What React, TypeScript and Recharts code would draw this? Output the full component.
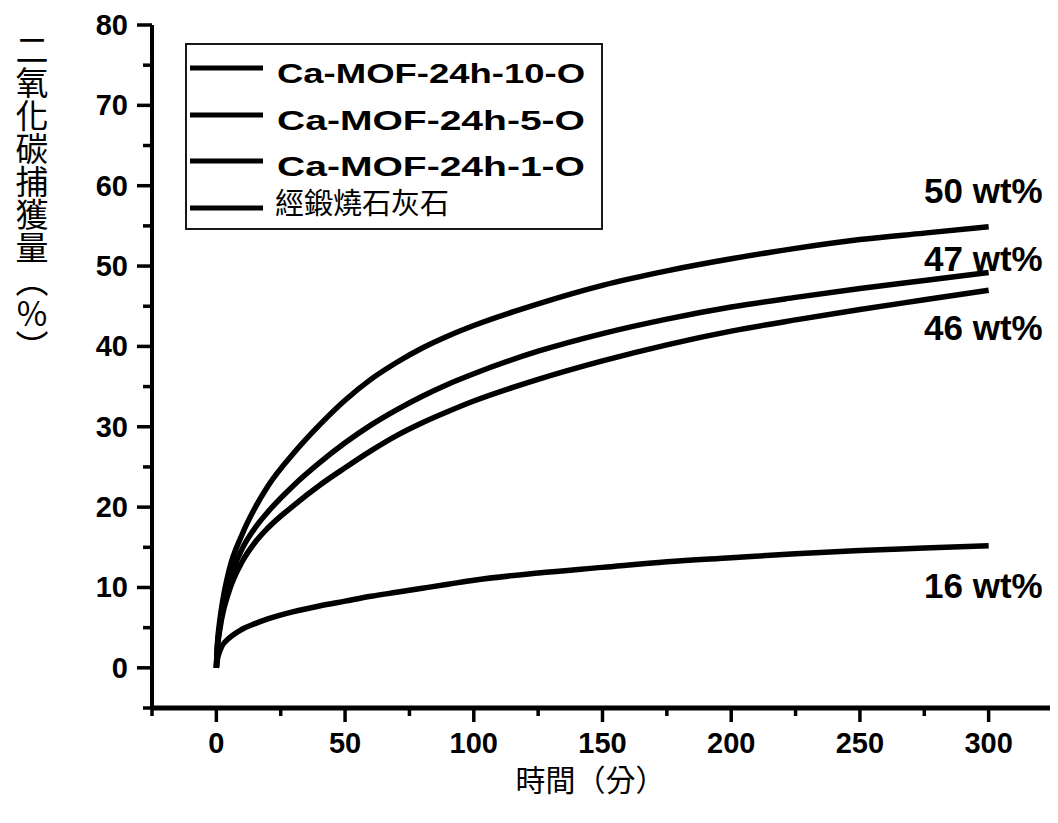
import React from 'react';
import { LineChart, Line, XAxis, YAxis, Legend, ReferenceDot } from 'recharts';

const times = [0, 0.5, 1, 2, 5, 10, 15, 20, 30, 40, 50, 60, 70, 80, 90, 100, 125, 150, 175, 200, 225, 250, 275, 300];
const mof10 = [0, 3.4, 5.0, 7.4, 12.2, 16.6, 19.9, 22.6, 26.7, 30.2, 33.3, 35.9, 38.0, 39.8, 41.3, 42.6, 45.3, 47.6, 49.4, 50.9, 52.2, 53.3, 54.1, 54.9];
const mof5 = [0, 3.0, 4.4, 6.6, 10.8, 14.8, 17.4, 19.4, 22.7, 25.5, 28.0, 30.2, 32.1, 33.8, 35.3, 36.6, 39.4, 41.6, 43.4, 44.9, 46.1, 47.2, 48.2, 49.2];
const mof1 = [0, 2.8, 4.0, 6.0, 9.6, 13.2, 15.6, 17.4, 20.2, 22.7, 24.9, 27.0, 28.9, 30.5, 31.9, 33.2, 35.9, 38.2, 40.2, 41.9, 43.3, 44.6, 45.8, 47.0];
const lime = [0, 1.2, 1.8, 2.6, 3.7, 4.8, 5.5, 6.1, 7.0, 7.7, 8.3, 8.9, 9.4, 9.9, 10.4, 10.9, 11.8, 12.5, 13.2, 13.7, 14.2, 14.6, 14.9, 15.2];

const seriesKeys = ['mof10', 'mof5', 'mof1', 'lime'];
const seriesNames = ['Ca-MOF-24h-10-O', 'Ca-MOF-24h-5-O', 'Ca-MOF-24h-1-O', '經鍛燒石灰石'];

const xTicks = [-25, 0, 25, 50, 75, 100, 125, 150, 175, 200, 225, 250, 275, 300, 325];
const xMajor = [0, 50, 100, 150, 200, 250, 300];
const yTicks = [-5, 0, 5, 10, 15, 20, 25, 30, 35, 40, 45, 50, 55, 60, 65, 70, 75, 80];
const yMajor = [0, 10, 20, 30, 40, 50, 60, 70, 80];

const endLabels = ['50 wt%', '47 wt%', '46 wt%', '16 wt%'];
const endLabelX = [321, 321, 321, 321];
const endLabelY = [59.4, 51.0, 42.3, 10.2];

const xTitle = '時間（分）';
const yTitle = '二氧化碳捕獲量（％）';

const data = times.map((t, i) => ({
  t,
  mof10: mof10[i],
  mof5: mof5[i],
  mof1: mof1[i],
  lime: lime[i],
}));

const LATIN = '"Liberation Sans", Arial, sans-serif';
const CJK = '"Noto Sans CJK TC", "Noto Sans CJK SC", sans-serif';

const YTick = (props: any) => {
  const { x, y, payload } = props;
  const major = yMajor.includes(payload.value);
  return (
    <g>
      <line x1={x - (major ? 15 : 9)} x2={x} y1={y} y2={y} stroke="#000" strokeWidth={3.5} />
      {major && (
        <text x={x - 24} y={y} textAnchor="end" dominantBaseline="central" fontFamily={LATIN} fontWeight="bold" fontSize={29} fill="#000">
          {payload.value}
        </text>
      )}
    </g>
  );
};

const XTick = (props: any) => {
  const { x, y, payload } = props;
  const major = xMajor.includes(payload.value);
  return (
    <g>
      <line x1={x} x2={x} y1={y} y2={y + (major ? 14 : 8)} stroke="#000" strokeWidth={3.5} />
      {major && (
        <text x={x} y={y + 35} textAnchor="middle" dominantBaseline="central" fontFamily={LATIN} fontWeight="bold" fontSize={29} fill="#000">
          {payload.value}
        </text>
      )}
    </g>
  );
};

const YTitle = (props: any) => {
  const vb = props.viewBox || {};
  return (
    <text
      x={(vb.x ?? 0) + 24}
      y={25}
      fontFamily={CJK}
      fontSize={33}
      fill="#000"
      style={{ writingMode: 'vertical-rl' as any }}
    >
      {yTitle}
    </text>
  );
};

const XTitle = (props: any) => {
  const vb = props.viewBox || {};
  return (
    <text
      x={vb.x + vb.width / 2 - 12}
      y={vb.y + 70}
      textAnchor="middle"
      dominantBaseline="central"
      fontFamily={CJK}
      fontSize={30}
      fill="#000"
    >
      {xTitle}
    </text>
  );
};

const LegendBox = () => {
  const rowY = [25, 72, 118, 165];
  return (
    <div style={{ width: 420, height: 190 }}>
      <svg width={420} height={190}>
        <rect x={1} y={1} width={416} height={185} fill="#fff" stroke="#000" strokeWidth={1.8} />
        {seriesNames.map((name, i) => (
          <g key={name}>
            <line x1={5} x2={78} y1={rowY[i]} y2={rowY[i]} stroke="#000" strokeWidth={5} />
            {i < 3 ? (
              <text x={92} y={rowY[i] + 15} fontFamily={LATIN} fontWeight="bold" fontSize={28} fill="#000" textLength={308} lengthAdjust="spacingAndGlyphs">
                {name}
              </text>
            ) : (
              <text x={90} y={rowY[i] + 6} fontFamily={CJK} fontSize={29} fill="#000">
                {name}
              </text>
            )}
          </g>
        ))}
      </svg>
    </div>
  );
};

const EndLabel = (text: string) => (props: any) => {
  const vb = props.viewBox || {};
  const cx = vb.x + (vb.width || 0) / 2;
  const cy = vb.y + (vb.height || 0) / 2;
  return (
    <text x={cx} y={cy} textAnchor="end" dominantBaseline="central" fontFamily={LATIN} fontWeight="bold" fontSize={35} fill="#000">
      {text}
    </text>
  );
};

export default function App() {
  return (
    <div style={{ width: 1050, height: 815, background: '#fff' }}>
      <LineChart width={1050} height={815} data={data} margin={{ top: 17, right: 5, bottom: 0, left: 0 }}>
        <XAxis
          dataKey="t"
          type="number"
          domain={[-25, 325]}
          ticks={xTicks}
          interval={0}
          allowDataOverflow
          height={115}
          tickSize={0}
          tickMargin={0}
          tickLine={false}
          axisLine={{ stroke: '#000', strokeWidth: 5 }}
          tick={<XTick />}
          label={<XTitle />}
        />
        <XAxis
          xAxisId="top"
          orientation="top"
          type="number"
          domain={[-25, 325]}
          height={0}
          tick={false}
          tickLine={false}
          axisLine={{ stroke: '#000', strokeWidth: 4 }}
        />
        <YAxis
          type="number"
          domain={[-5, 80]}
          ticks={yTicks}
          interval={0}
          allowDataOverflow
          width={144}
          tickSize={0}
          tickMargin={0}
          tickLine={false}
          axisLine={{ stroke: '#000', strokeWidth: 4 }}
          tick={<YTick />}
          label={<YTitle />}
        />
        <YAxis
          yAxisId="right"
          orientation="right"
          type="number"
          domain={[-5, 80]}
          width={0}
          tick={false}
          tickLine={false}
          axisLine={{ stroke: '#000', strokeWidth: 3 }}
        />
        <Legend
          layout="horizontal"
          verticalAlign="middle"
          align="center"
          content={<LegendBox />}
          wrapperStyle={{ position: 'absolute', left: 177, top: 35, width: 420, height: 190 }}
        />
        {seriesKeys.map((k, i) => (
          <Line
            key={k}
            type="monotone"
            dataKey={k}
            name={seriesNames[i]}
            stroke="#000"
            strokeWidth={5.5}
            dot={false}
            isAnimationActive={false}
          />
        ))}
        {endLabels.map((txt, i) => (
          <ReferenceDot
            key={txt}
            x={endLabelX[i]}
            y={endLabelY[i]}
            r={1}
            fill="none"
            stroke="none"
            ifOverflow="visible"
            label={EndLabel(txt)}
          />
        ))}
      </LineChart>
    </div>
  );
}
